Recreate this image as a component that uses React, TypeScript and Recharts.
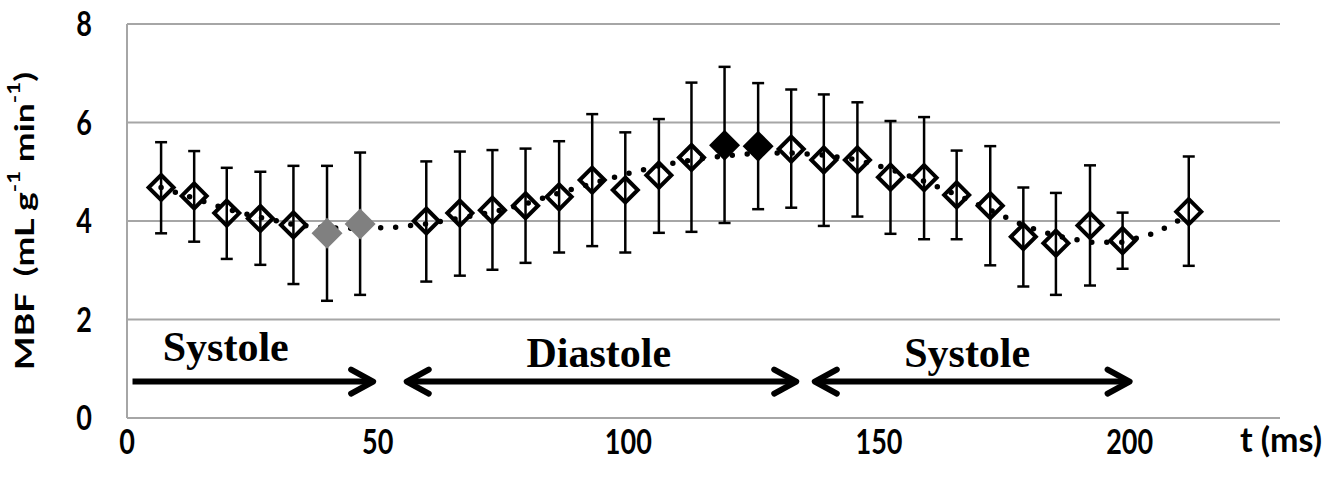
import {
  CartesianGrid,
  ComposedChart,
  ErrorBar,
  Line,
  ReferenceDot,
  ReferenceLine,
  Scatter,
  XAxis,
  YAxis,
} from 'recharts'

// measured frames (ms) and MBF (mL g-1 min-1)
const TIMES = [
  6.8, 13.4, 19.9, 26.6, 33.2, 39.9, 46.5, 59.7, 66.4, 72.9, 79.5, 86.2, 92.8, 99.4, 106.1,
  112.6, 119.2, 125.9, 132.5, 139.0, 145.7, 152.3, 159.0, 165.5, 172.2, 178.8, 185.3, 192.1, 198.6, 211.8,
]
const MBF = [
  4.68, 4.51, 4.16, 4.05, 3.92, 3.75, 3.94, 4.0, 4.16, 4.22, 4.31, 4.49, 4.83, 4.63, 4.93,
  5.29, 5.54, 5.52, 5.46, 5.24, 5.24, 4.89, 4.88, 4.53, 4.31, 3.68, 3.55, 3.91, 3.6, 4.19,
]
const UPPER = [
  5.6, 5.42, 5.08, 5.0, 5.12, 5.12, 5.39, 5.21, 5.41, 5.44, 5.47, 5.62, 6.17, 5.8, 6.07,
  6.81, 7.13, 6.8, 6.67, 6.57, 6.41, 6.03, 6.11, 5.43, 5.52, 4.68, 4.57, 5.13, 4.17, 5.31,
]
const LOWER = [
  3.75, 3.58, 3.23, 3.11, 2.72, 2.38, 2.5, 2.77, 2.89, 3.01, 3.15, 3.36, 3.49, 3.36, 3.76,
  3.78, 3.96, 4.24, 4.27, 3.9, 4.09, 3.74, 3.63, 3.63, 3.1, 2.67, 2.5, 2.69, 3.03, 3.09,
]
const KINDS = [
  'open', 'open', 'open', 'open', 'open', 'gray', 'gray', 'open', 'open', 'open', 'open', 'open', 'open', 'open', 'open',
  'open', 'black', 'black', 'open', 'open', 'open', 'open', 'open', 'open', 'open', 'open', 'open', 'open', 'open', 'open',
]

// dotted trend line
const TREND_TIMES = [
  6.8, 13.4, 19.9, 26.6, 33.2, 39.9, 46.5, 53.1, 59.7, 66.4, 72.9, 79.5, 86.2, 92.8, 99.4, 106.1,
  112.6, 119.2, 125.9, 132.5, 139.0, 145.7, 152.3, 159.0, 165.5, 172.2, 178.8, 185.3, 192.1, 198.6, 205.2, 211.8,
]
const TREND = [
  4.68, 4.46, 4.24, 4.07, 3.93, 3.86, 3.85, 3.87, 3.94, 4.06, 4.18, 4.35, 4.57, 4.76, 4.95, 5.12,
  5.24, 5.32, 5.38, 5.38, 5.34, 5.24, 5.05, 4.81, 4.53, 4.22, 3.91, 3.7, 3.57, 3.57, 3.76, 4.12,
]

const X_TICKS = [0, 50, 100, 150, 200]
const Y_TICKS = [0, 2, 4, 6, 8]

// cardiac phase annotations (in data units)
const PHASES = [
  { name: 'Systole', from: 1.1, to: 49.1, leftHead: false, labelX: 19.7, labelY: 1.16 },
  { name: 'Diastole', from: 55.8, to: 133.5, leftHead: true, labelX: 94.1, labelY: 1.04 },
  { name: 'Systole', from: 137.2, to: 200.0, leftHead: true, labelX: 167.6, labelY: 1.04 },
]
const ARROW_Y = 0.74

const points = TIMES.map((t, i) => ({
  t,
  mbf: MBF[i],
  err: [MBF[i] - LOWER[i], UPPER[i] - MBF[i]],
  kind: KINDS[i],
}))
const trendData = TREND_TIMES.map((t, i) => ({ t, v: TREND[i] }))

const AXIS_FONT = 'Lato, "Open Sans", sans-serif'
const GRID = '#a6a6a6'
const STRETCH = 1.25

function Diamond(props: any) {
  const { cx, cy, payload } = props
  if (cx == null || cy == null) return <g />
  if (payload.kind === 'open') {
    const r = 12.5
    return (
      <polygon
        points={`${cx},${cy - r} ${cx + r},${cy} ${cx},${cy + r} ${cx - r},${cy}`}
        fill="none"
        stroke="#000"
        strokeWidth={4}
      />
    )
  }
  const r = 15.5
  return (
    <polygon
      points={`${cx},${cy - r} ${cx + r},${cy} ${cx},${cy + r} ${cx - r},${cy}`}
      fill={payload.kind === 'gray' ? '#808080' : '#000'}
    />
  )
}

function arrowShape(leftHead: boolean) {
  return (props: any) => {
    const { x1, y1, x2, y2 } = props
    const hl = 22
    const hh = 12
    return (
      <g stroke="#000" strokeWidth={6} fill="none" strokeLinejoin="round" strokeLinecap="round">
        <line x1={x1 + (leftHead ? 2 : 0)} y1={y1} x2={x2 - 2} y2={y2} strokeLinecap="butt" />
        <polyline points={`${x2 - hl},${y2 - hh} ${x2},${y2} ${x2 - hl},${y2 + hh}`} />
        {leftHead && <polyline points={`${x1 + hl},${y1 - hh} ${x1},${y1} ${x1 + hl},${y1 + hh}`} />}
      </g>
    )
  }
}

function phaseLabel(name: string) {
  return (props: any) => (
    <text
      x={props.cx}
      y={props.cy}
      textAnchor="middle"
      fontFamily='"Liberation Serif", "Times New Roman", serif'
      fontWeight={700}
      fontSize={42}
      fill="#000"
    >
      {name}
    </text>
  )
}

function XTick(props: any) {
  const { x, y, payload } = props
  return (
    <text
      transform={`translate(${x} ${y}) scale(1 ${STRETCH})`}
      textAnchor="middle"
      dy="0.71em"
      fontFamily={AXIS_FONT}
      fontWeight={700}
      fontSize={27}
      fill="#000"
    >
      {payload.value}
    </text>
  )
}

function YTick(props: any) {
  const { x, y, payload } = props
  return (
    <text
      transform={`translate(${x} ${y}) scale(1 ${STRETCH})`}
      textAnchor="end"
      dy="0.36em"
      fontFamily={AXIS_FONT}
      fontWeight={700}
      fontSize={27}
      fill="#000"
    >
      {payload.value}
    </text>
  )
}

function YTitle(props: any) {
  const vb = props.viewBox
  const cx = 24
  const cy = vb.y + vb.height / 2
  return (
    <text
      transform={`translate(${cx} ${cy}) rotate(-90) scale(1.32 1)`}
      textAnchor="middle"
      dominantBaseline="central"
      fontFamily={AXIS_FONT}
      fontWeight={700}
      fontSize={27}
      fill="#000"
      style={{ whiteSpace: 'pre' }}
    >
      <tspan>{'MBF  (mL g'}</tspan>
      <tspan fontSize={17} dy={-11}>-1</tspan>
      <tspan dy={11}>{' min'}</tspan>
      <tspan fontSize={17} dy={-11}>-1</tspan>
      <tspan dy={11}>)</tspan>
    </text>
  )
}

function XTitle(props: any) {
  const vb = props.viewBox
  return (
    <text
      x={vb.x + vb.width + 1}
      y={452}
      textAnchor="middle"
      fontFamily={AXIS_FONT}
      fontWeight={700}
      fontSize={34}
      fill="#000"
    >
      t (ms)
    </text>
  )
}

export default function App() {
  return (
    <div style={{ position: 'absolute', left: 0, top: 0, width: 1326, height: 491, background: '#fff' }}>
      <ComposedChart width={1326} height={491} margin={{ top: 24, right: 46, left: 0, bottom: 0 }}>
        <CartesianGrid vertical={false} stroke={GRID} strokeWidth={2} />
        <XAxis
          type="number"
          dataKey="t"
          domain={[0, 230]}
          ticks={X_TICKS}
          height={73}
          axisLine={{ stroke: GRID, strokeWidth: 2 }}
          tickLine={false}
          tickSize={0}
          tickMargin={12}
          tick={<XTick />}
          label={<XTitle />}
          allowDataOverflow
        />
        <YAxis
          type="number"
          domain={[0, 8]}
          ticks={Y_TICKS}
          width={127}
          axisLine={{ stroke: GRID, strokeWidth: 2 }}
          tickLine={false}
          tickSize={0}
          tickMargin={35}
          tick={<YTick />}
          label={<YTitle />}
          allowDataOverflow
        />
        {PHASES.map((p, i) => (
          <ReferenceLine
            key={`arrow-${i}`}
            segment={[
              { x: p.from, y: ARROW_Y },
              { x: p.to, y: ARROW_Y },
            ]}
            shape={arrowShape(p.leftHead)}
          />
        ))}
        {PHASES.map((p, i) => (
          <ReferenceDot key={`label-${i}`} x={p.labelX} y={p.labelY} r={0} shape={phaseLabel(p.name)} />
        ))}
        <Scatter data={points} dataKey="mbf" shape={<Diamond />} isAnimationActive={false}>
          <ErrorBar dataKey="err" direction="y" width={6} stroke="#000" strokeWidth={2.5} />
        </Scatter>
        <Line
          data={trendData}
          dataKey="v"
          type="linear"
          stroke="#000"
          strokeWidth={5.5}
          strokeDasharray="0 15"
          strokeLinecap="round"
          dot={false}
          activeDot={false}
          isAnimationActive={false}
        />
      </ComposedChart>
    </div>
  )
}
